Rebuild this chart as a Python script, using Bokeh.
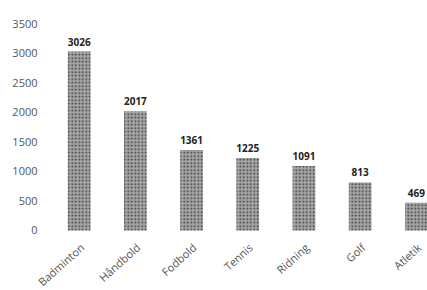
from bokeh.plotting import figure
from bokeh.models import ColumnDataSource, Range1d
from bokeh.core.properties import value
from bokeh.embed import file_html
from bokeh.resources import INLINE

sports = ["Badminton", "Håndbold", "Fodbold", "Tennis", "Ridning", "Golf", "Atletik"]
members = [3026, 2017, 1361, 1225, 1091, 813, 469]
y_ticks = [0, 500, 1000, 1500, 2000, 2500, 3000, 3500]

X_START, X_END = -1.400, 6.198
xs = list(range(len(sports)))
src = ColumnDataSource(dict(x=xs, top=members, lbl=[str(v) for v in members],
                            base=[0] * len(sports), name=sports))
tick_src = ColumnDataSource(dict(x=[X_START] * len(y_ticks), y=y_ticks,
                                 t=[str(v) for v in y_ticks]))

p = figure(width=427, height=290, output_backend="svg", toolbar_location=None,
           x_range=Range1d(X_START, X_END), y_range=Range1d(-1014.5, 3888.9),
           min_border=0)
p.outline_line_color = None
p.grid.visible = False
p.axis.visible = False
p.background_fill_color = "white"
p.border_fill_color = "white"

p.vbar(x="x", top="top", width=0.404, source=src, fill_color="#a4a4a4", line_color=None,
       hatch_pattern="dot", hatch_color="#333333", hatch_scale=3.5, hatch_weight=1)

# value labels above bars
p.text(x="x", y="top", text="lbl", source=src, text_align="center",
       text_baseline="bottom", y_offset=-6, text_font=value("Open Sans"),
       text_font_size="10px", text_font_style="bold", text_color="#222222")

# category labels (rotated)
p.text(x="x", y="base", text="name", source=src, text_align="right",
       text_baseline="middle", angle=0.73, y_offset=15, x_offset=3,
       text_font=value("Open Sans"), text_font_size="11px", text_color="#555555")

# y tick labels
p.text(x="x", y="y", text="t", source=tick_src, text_align="right",
       text_baseline="middle", x_offset=37, text_font=value("Open Sans"),
       text_font_size="11px", text_color="#555555")

open("out.html", "w").write(file_html(p, INLINE))
